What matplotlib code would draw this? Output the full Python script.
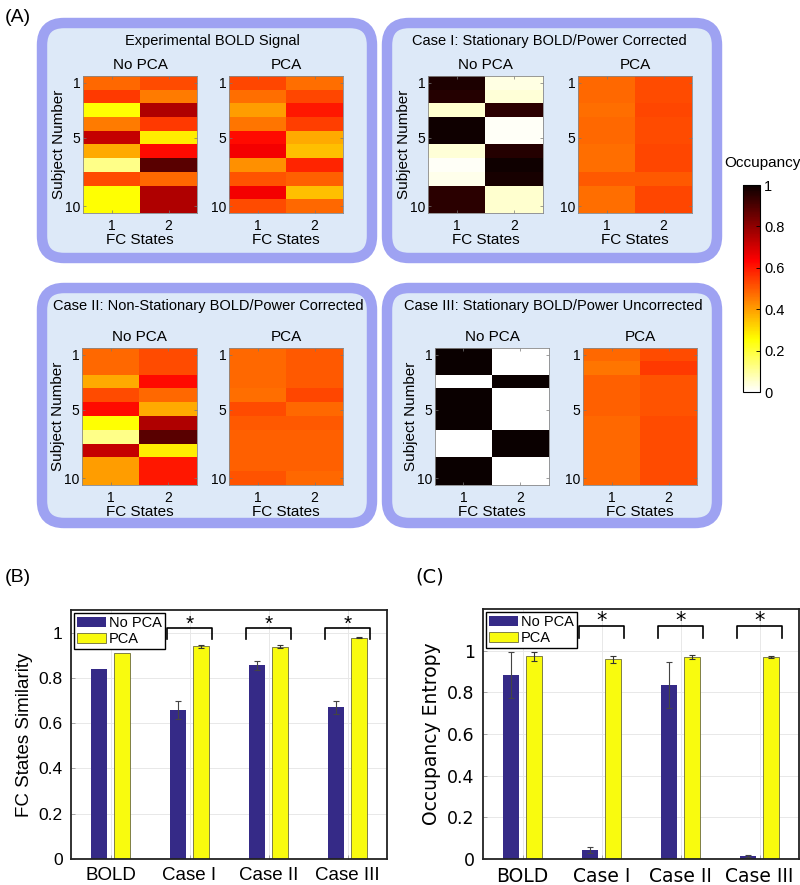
import numpy as np
import matplotlib
matplotlib.use("Agg")
import matplotlib.pyplot as plt
from matplotlib.patches import FancyBboxPatch
from matplotlib.colors import Normalize
from matplotlib.cm import ScalarMappable

plt.rcParams["font.family"] = ["Liberation Sans", "DejaVu Sans"]

W, H = 800, 885

# occupancy per subject (rows 1..10) for FC state 1 and FC state 2
bold_nopca = [[0.48, 0.52], [0.55, 0.45], [0.25, 0.75], [0.45, 0.55], [0.72, 0.28],
              [0.38, 0.62], [0.12, 0.88], [0.52, 0.48], [0.25, 0.75], [0.25, 0.75]]
bold_pca = [[0.53, 0.47], [0.47, 0.53], [0.40, 0.60], [0.46, 0.54], [0.62, 0.38],
            [0.65, 0.35], [0.42, 0.58], [0.51, 0.49], [0.65, 0.35], [0.52, 0.48]]
case1_nopca = [[0.97, 0.03], [0.96, 0.04], [0.05, 0.95], [0.99, 0.01], [0.99, 0.01],
               [0.04, 0.96], [0.01, 0.99], [0.02, 0.98], [0.95, 0.05], [0.95, 0.05]]
case1_pca = [[0.48, 0.52], [0.48, 0.52], [0.47, 0.53], [0.48, 0.52], [0.48, 0.52],
             [0.47, 0.53], [0.47, 0.53], [0.50, 0.50], [0.47, 0.53], [0.47, 0.53]]
case2_nopca = [[0.48, 0.52], [0.48, 0.52], [0.38, 0.62], [0.52, 0.48], [0.62, 0.38],
               [0.25, 0.75], [0.12, 0.88], [0.72, 0.28], [0.40, 0.60], [0.40, 0.60]]
case2_pca = [[0.48, 0.50], [0.48, 0.50], [0.48, 0.50], [0.47, 0.53], [0.52, 0.48],
             [0.50, 0.50], [0.49, 0.49], [0.49, 0.49], [0.49, 0.49], [0.51, 0.48]]
case3_nopca = [[1, 0], [1, 0], [0, 1], [1, 0], [1, 0],
               [1, 0], [0, 1], [0, 1], [1, 0], [1, 0]]
case3_pca = [[0.48, 0.52], [0.46, 0.55], [0.49, 0.51], [0.49, 0.51], [0.49, 0.51],
             [0.48, 0.52], [0.48, 0.52], [0.48, 0.52], [0.48, 0.52], [0.48, 0.52]]

panel_titles = ["Experimental BOLD Signal", "Case I: Stationary BOLD/Power Corrected",
                "Case II: Non-Stationary BOLD/Power Corrected",
                "Case III: Stationary BOLD/Power Uncorrected"]
panel_maps = [(bold_nopca, bold_pca), (case1_nopca, case1_pca),
              (case2_nopca, case2_pca), (case3_nopca, case3_pca)]

groups = ["BOLD", "Case I", "Case II", "Case III"]
sim_nopca = [0.84, 0.66, 0.855, 0.67]
sim_nopca_err = [0.0, 0.04, 0.02, 0.03]
sim_pca = [0.91, 0.94, 0.937, 0.977]
sim_pca_err = [0.0, 0.007, 0.007, 0.002]
ent_nopca = [0.885, 0.045, 0.835, 0.015]
ent_nopca_err = [0.11, 0.015, 0.11, 0.003]
ent_pca = [0.973, 0.958, 0.970, 0.970]
ent_pca_err = [0.022, 0.016, 0.011, 0.005]
sig_groups = [1, 2, 3]

BLUE = "#352a87"
YELLOW = "#f9fb0e"


def px_rect(x0, y0, x1, y1):
    return [x0 / W, 1 - y1 / H, (x1 - x0) / W, (y1 - y0) / H]


fig = plt.figure(figsize=(W / 100, H / 100), dpi=100)

# background canvas in pixel units for the rounded boxes
bg = fig.add_axes([0, 0, 1, 1], zorder=-1)
bg.set_xlim(0, W)
bg.set_ylim(H, 0)
bg.axis("off")
boxes = [(42, 23, 372, 258), (387, 23, 717, 258), (42, 288, 372, 523), (387, 288, 717, 523)]
for x0, y0, x1, y1 in boxes:
    bg.add_patch(FancyBboxPatch((x0, y0), x1 - x0, y1 - y0,
                                boxstyle="round,pad=0,rounding_size=22",
                                fc="#dde9f8", ec="#9ea2f2", lw=7.5))

title_pos = [(212, 41), (549, 41), (208, 306), (553, 306)]
heat_pos = [((83, 76, 197, 213), (229, 76, 343, 213)),
            ((428, 76, 543, 213), (578, 76, 692, 213)),
            ((82, 348, 197, 485), (229, 348, 343, 485)),
            ((435, 348, 549, 485), (583, 348, 697, 485))]

for k in range(4):
    tx, ty = title_pos[k]
    fig.text(tx / W, 1 - ty / H, panel_titles[k], ha="center", va="center", fontsize=10.5)
    for j, (rect, data) in enumerate(zip(heat_pos[k], panel_maps[k])):
        ax = fig.add_axes(px_rect(*rect))
        ax.imshow(np.array(data, float), cmap="hot_r", vmin=0, vmax=1,
                  aspect="auto", interpolation="nearest")
        ax.set_xticks([0, 1])
        ax.set_xticklabels(["1", "2"])
        ax.set_yticks([0, 4, 9])
        ax.set_yticklabels(["1", "5", "10"])
        ax.tick_params(direction="in", top=True, right=True, length=2.5,
                       width=0.5, colors="#777777", labelcolor="black",
                       labelsize=10, pad=2)
        ax.tick_params(axis="x", pad=4)
        for s in ax.spines.values():
            s.set_color("#888888")
            s.set_linewidth(0.6)
        ax.set_title("No PCA" if j == 0 else "PCA", fontsize=11, pad=5)
        ax.set_xlabel("FC States", fontsize=11, labelpad=0)
        if j == 0:
            ax.set_ylabel("Subject Number", fontsize=11, labelpad=-1)

# colorbar
cax = fig.add_axes(px_rect(743, 185, 760, 392))
cb = fig.colorbar(ScalarMappable(norm=Normalize(0, 1), cmap="hot_r"), cax=cax)
cb.set_ticks([0, 0.2, 0.4, 0.6, 0.8, 1])
cb.set_ticklabels(["0", "0.2", "0.4", "0.6", "0.8", "1"])
cax.tick_params(direction="in", length=3, width=0.6, labelsize=10.5, pad=3)
cb.outline.set_linewidth(0.8)
fig.text(762 / W, 1 - 163 / H, "Occupancy", ha="center", va="center", fontsize=11)


def bar_panel(rect, nop, nop_err, pc, pc_err, ylim, yticks, ylabel, br_lo, br_hi, fam):
    ax = fig.add_axes(px_rect(*rect))
    x = np.arange(1, len(groups) + 1)
    ax.bar(x - 0.143, nop, 0.21, color=BLUE, label="No PCA", zorder=2)
    ax.bar(x + 0.143, pc, 0.21, color=YELLOW, edgecolor="#6b6b3a", lw=0.6,
           label="PCA", zorder=2)
    for xi, v, e in zip(x - 0.143, nop, nop_err):
        if e > 0:
            ax.errorbar(xi, v, yerr=e, color="#444444", lw=0.8, capsize=2.5,
                        capthick=0.8, zorder=3)
    for xi, v, e in zip(x + 0.143, pc, pc_err):
        if e > 0:
            ax.errorbar(xi, v, yerr=e, color="#333333", lw=0.8, capsize=2.5,
                        capthick=0.8, zorder=3)
    for g in sig_groups:
        xc = x[g]
        ax.plot([xc - 0.28, xc - 0.28, xc + 0.28, xc + 0.28],
                [br_lo, br_hi, br_hi, br_lo], color="black", lw=1.2, zorder=3)
        ax.text(xc, br_hi - 0.006, "*", ha="center", va="baseline", fontsize=15,
                family=fam)
    ax.set_xlim(0.5, 4.5)
    ax.set_ylim(*ylim)
    ax.set_xticks(x)
    ax.set_xticklabels(groups, fontsize=13.5, family=fam)
    ax.set_yticks(yticks)
    ax.set_yticklabels(["0" if t == 0 else ("1" if t == 1 else f"{t:.1f}") for t in yticks],
                       fontsize=12.5, family=fam)
    ax.set_ylabel(ylabel, fontsize=13.5, family=fam, labelpad=4)
    ax.tick_params(direction="in", length=3, width=0.6, color="#999999", pad=6)
    ax.grid(True, color="#e8e8e8", lw=0.7)
    ax.set_axisbelow(True)
    for s in ax.spines.values():
        s.set_linewidth(1.3)
        s.set_color("#222222")
    leg = ax.legend(loc="upper left", fontsize=10.5, frameon=True, fancybox=False,
                    handlelength=2.0, handletextpad=0.2, borderaxespad=0.2,
                    borderpad=0.2, labelspacing=0.15)
    leg.get_frame().set_edgecolor("black")
    leg.get_frame().set_linewidth(1.0)
    leg.get_frame().set_alpha(1)
    return ax


bar_panel((71, 610, 387, 859), sim_nopca, sim_nopca_err, sim_pca, sim_pca_err,
          (0, 1.1), [0, 0.2, 0.4, 0.6, 0.8, 1.0], "FC States Similarity",
          0.97, 1.02, "Liberation Sans")
bar_panel((483, 609, 799, 859), ent_nopca, ent_nopca_err, ent_pca, ent_pca_err,
          (0, 1.2), [0, 0.2, 0.4, 0.6, 0.8, 1.0], "Occupancy Entropy",
          1.063, 1.12, "DejaVu Sans")

fig.text(5 / W, 1 - 18 / H, "(A)", ha="left", va="center", fontsize=14)
fig.text(5 / W, 1 - 577 / H, "(B)", ha="left", va="center", fontsize=14)
fig.text(415 / W, 1 - 577 / H, "(C)", ha="left", va="center", fontsize=14,
         family="DejaVu Sans")

fig.savefig("out.png", dpi=100)
